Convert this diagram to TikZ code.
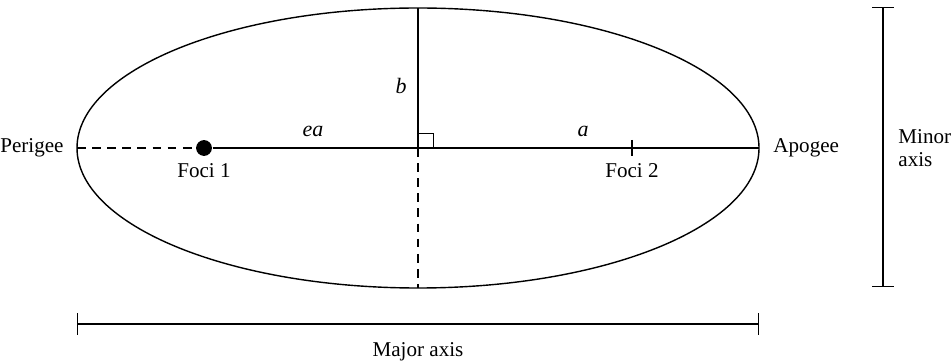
\documentclass[tikz,border=0pt]{standalone}
\usepackage{fontspec}
\setmainfont{Liberation Serif}
\usepackage{tikz}
\usetikzlibrary{positioning, arrows.meta}

\begin{document}
\begin{tikzpicture}[
        x=0.02cm, y=-0.02cm,
        line width=0.8pt,
        label/.style={
          font=\fontsize{12}{13.5}\selectfont,
          inner sep=1pt
        },
        varlabel/.style={
          font=\fontsize{12.5}{13.5}\selectfont\itshape,
          inner sep=1pt
        },
        guide/.style={
          dashed,
          dash pattern=on 5pt off 3.6pt
        },
        bar/.style={
          {Bar[width=12pt]}-{Bar[width=12pt]}
        }
      ]
      \useasboundingbox (0,0) rectangle (952,364);

      % Points
      \coordinate (centre) at (418,148);
      \coordinate (peri) at (77,148);
      \coordinate (apo) at (759,148);
      \coordinate (top) at (418,8);
      \coordinate (bottom) at (418,288);
      \coordinate (f2) at (632,148);

      % Ellipse
      \draw (centre) ellipse [x radius=341, y radius=140];

      % Nodes
      \node [circle, fill=black, inner sep=0pt, minimum size=9pt] (f1) at (204,148) {};
      \node [label, anchor=east] (perigee) at (66,148) {Perigee};
      \node [label, anchor=west] (apogee) at (771,148) {Apogee};
      \node [label] (foci1) at (204,171) {Foci 1};
      \node [label] (foci2) at (632,171) {Foci 2};
      \node [varlabel] (ea) at (313,131) {ea};
      \node [varlabel] (alab) at (583,131) {a};
      \node [varlabel] (blab) at (401,86) {b};
      \node [label, align=left, anchor=west] (minor) at (896,148) {Minor\\axis};
      \node [label] (major) at (418,352) {Major axis};

      % Axes inside the ellipse
      \draw [guide] (peri) -- (f1);
      \draw (f1) -- (apo);
      \draw (top) -- (centre);
      \draw [guide] (centre) -- (bottom);
      \draw [line width=0.5pt] (centre) rectangle ++(15,-15);
      \draw (632,140) -- (632,156);

      % Dimension bars
      \draw [bar] (77,324) -- (759,324);
      \draw [bar] (883,7) -- (883,287);

    \end{tikzpicture}
\end{document}
